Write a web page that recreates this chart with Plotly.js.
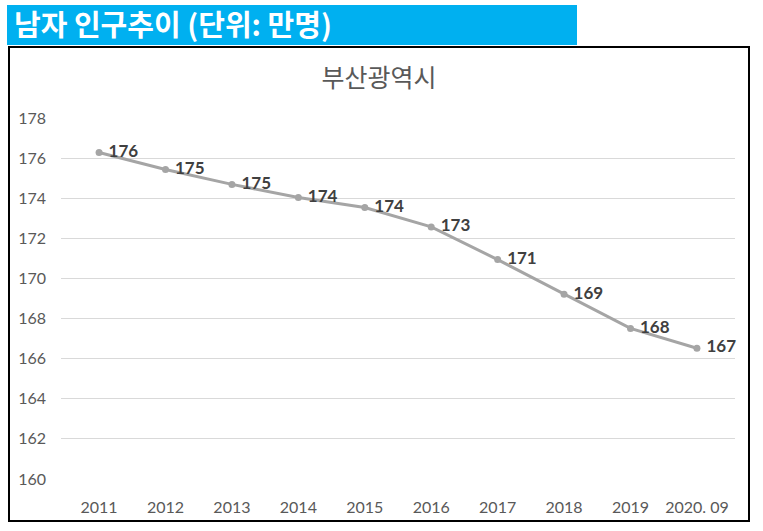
<!DOCTYPE html>
<html>
<head>
<meta charset="utf-8">
<script src="https://cdn.plot.ly/plotly-3.0.1.min.js"></script>
<style>
  body { margin: 0; background: #fff; }
  #header {
    position: absolute; left: 7px; top: 5px; width: 570px; height: 40px;
    background: #00B0F0; color: #fff;
    font-family: "Noto Sans CJK KR", sans-serif; font-weight: bold; font-size: 29px;
    line-height: 37px; padding-left: 7px; box-sizing: border-box; white-space: nowrap;
  }
  #chart {
    position: absolute; left: 8px; top: 46px; width: 742px; height: 476px;
    border: 2px solid #000; box-sizing: border-box;
  }
</style>
</head>
<body>
<div id="header">남자 인구추이 (단위: 만명)</div>
<div id="chart"></div>
<script>
  var years = ['2011', '2012', '2013', '2014', '2015', '2016', '2017', '2018', '2019', '2020. 09'];
  var malePop = [176.28, 175.43, 174.69, 174.04, 173.54, 172.57, 170.94, 169.21, 167.51, 166.52];
  var yTicks = [160, 162, 164, 166, 168, 170, 172, 174, 176, 178];

  var trace = {
    x: years, y: malePop,
    type: 'scatter', mode: 'lines+markers+text',
    line: { color: '#A5A5A5', width: 3 },
    marker: { color: '#A5A5A5', size: 7 },
    texttemplate: ' %{y:.0f}',
    textposition: 'middle right',
    textfont: { family: 'Lato, sans-serif', size: 17, color: '#404040', weight: 'bold' },
    hoverinfo: 'x+y',
    cliponaxis: false
  };

  var layout = {
    width: 738, height: 472,
    paper_bgcolor: '#fff', plot_bgcolor: '#fff',
    margin: { l: 51, r: 13, t: 70, b: 41 },
    showlegend: false,
    title: {
      text: '부산광역시', x: 0.5, xref: 'container', y: 0.936, yref: 'container',
      xanchor: 'center', yanchor: 'middle',
      font: { family: '"Noto Sans CJK KR", sans-serif', size: 25, color: '#595959' }
    },
    xaxis: {
      type: 'category', showgrid: false, zeroline: false,
      showline: false, ticks: '', ticklabelstandoff: 17,
      tickfont: { family: 'Lato, sans-serif', size: 16, color: '#595959' }
    },
    yaxis: {
      range: [160, 178], tickvals: yTicks, showline: false, zeroline: false,
      gridcolor: '#D9D9D9', gridwidth: 1, ticks: '', ticklabelstandoff: 14,
      tickfont: { family: 'Lato, sans-serif', size: 16, color: '#595959' }
    }
  };

  Plotly.newPlot('chart', [trace], layout, { displayModeBar: false, staticPlot: true });
</script>
</body>
</html>
